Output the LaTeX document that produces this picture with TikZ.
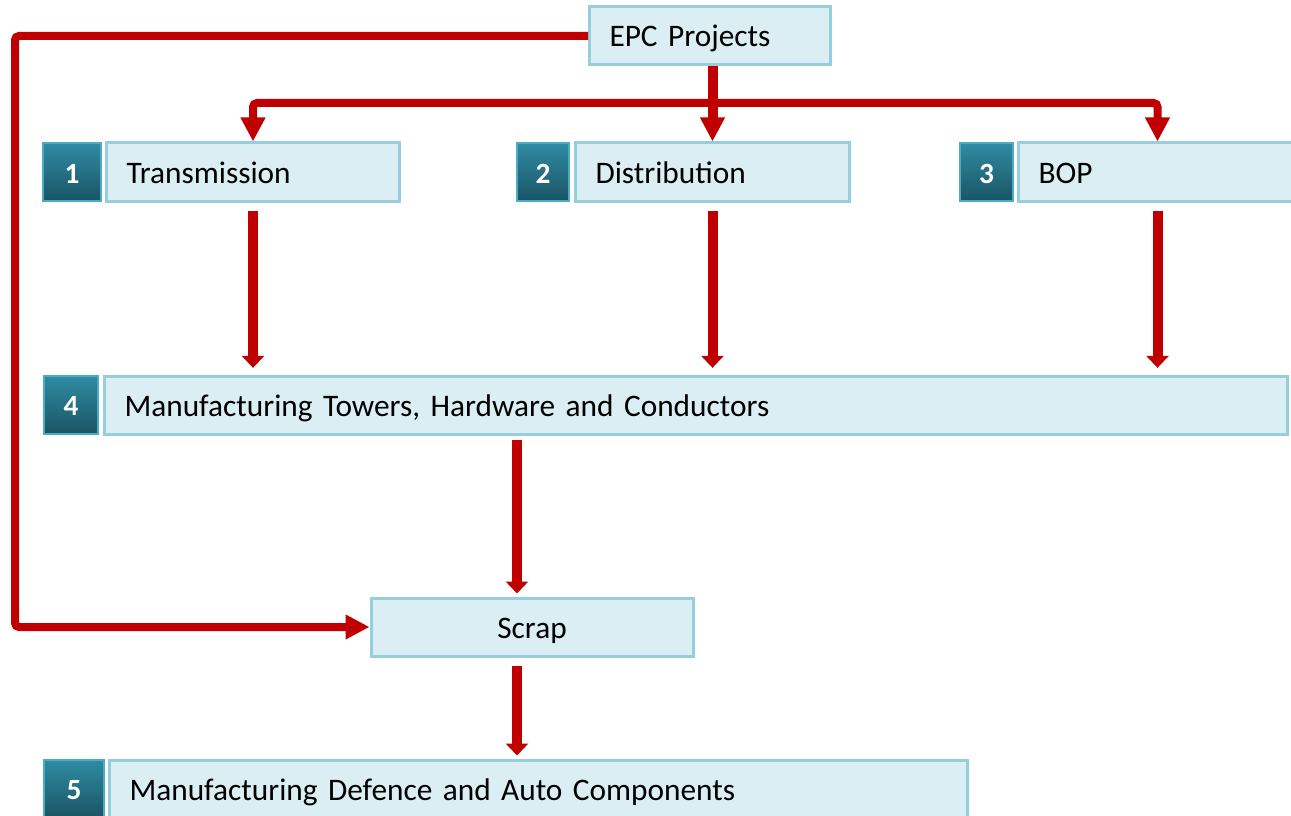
\documentclass[tikz,border=0pt]{standalone}
\usepackage{fontspec}
\setmainfont{Carlito}
\usetikzlibrary{positioning, arrows.meta}

\begin{document}
\begin{tikzpicture}[x=0.75pt, y=-0.75pt,
  txtbox/.style={draw=boxline, line width=2.25pt, fill=boxfill, anchor=west,
    minimum height=43.5pt, inner xsep=15pt, align=left,
    text height=17.5pt, text depth=1pt,
    font=\fontsize{23.5}{28}\selectfont},
  numbox/.style={draw=numline, line width=1.5pt, top color=numtop, bottom color=numbottom,
    minimum height=43.5pt, anchor=west, text=white, inner sep=0pt,
    text height=17pt, text depth=1pt,
    font=\fontsize{22}{26}\selectfont\bfseries},
  bus/.style={draw=arrowred, line width=6pt, rounded corners=3pt},
  bigtip/.style={-{Triangle[length=18pt,width=17.5pt]}},
  drop/.style={draw=arrowred, line width=7.5pt, -{Triangle[length=9pt,width=16.5pt]}}]

% Define colors
\definecolor{boxfill}{RGB}{218,238,243}
\definecolor{boxline}{RGB}{150,206,222}
\definecolor{numtop}{RGB}{47,139,163}
\definecolor{numbottom}{RGB}{26,84,100}
\definecolor{numline}{RGB}{75,172,198}
\definecolor{arrowred}{RGB}{192,0,0}

% Fix the page size
\useasboundingbox (0,0) rectangle (1291,816);

% Top box
\node[txtbox, text width=150.75pt] (epc) at (588,36) {EPC Projects};

% First row
\node[numbox, minimum width=43.5pt] (num1) at (42,172.5) {1};
\node[txtbox, text width=189.75pt, minimum height=44.25pt] (trans) at (105,172.5) {Transmission};

\node[numbox, minimum width=39pt] (num2) at (516,172.5) {2};
\node[txtbox, text width=175.5pt, minimum height=44.25pt] (dist) at (574,172.5) {Distribution};

\node[numbox, minimum width=39.75pt] (num3) at (959,172.5) {3};
\node[txtbox, text width=178.5pt, minimum height=44.25pt] (bop) at (1017,172.5) {BOP};

% Manufacturing row
\node[numbox, minimum width=40.5pt] (num4) at (43,405) {4};
\node[txtbox, text width=857.25pt] (mfg) at (103,405) {Manufacturing Towers, Hardware and Conductors};

% Scrap
\node[txtbox, anchor=center, minimum width=241.5pt, align=center] (scrap) at (532,627) {Scrap};

% Last row
\node[numbox, minimum width=45pt] (num5) at (43,789) {5};
\node[txtbox, text width=613.5pt] (auto) at (108,789) {Manufacturing Defence and Auto Components};

% Arrows from EPC
\coordinate (split) at (711,103);
\coordinate (corner) at (15,627);
\draw[bus, {Triangle[length=18pt,width=17.5pt]}-{Triangle[length=18pt,width=17.5pt]}]
  (trans.north) |- (split) -| (bop.north);
\draw[bus, line width=7.5pt, bigtip] (dist.north |- epc.south) -- (dist.north);
\draw[bus, bigtip] (epc.west) -| (corner) -- (scrap.west);

% Arrows down to manufacturing
\draw[drop, shorten <=6pt, shorten >=5pt] (trans.south) -- (trans.south |- mfg.north);
\draw[drop, shorten <=6pt, shorten >=5pt] (dist.south) -- (dist.south |- mfg.north);
\draw[drop, shorten <=6pt, shorten >=5pt] (bop.south) -- (bop.south |- mfg.north);

% Arrows through scrap
\coordinate (drop5) at ([xshift=-11.25pt]scrap.north);
\draw[drop, shorten <=3pt, shorten >=2.25pt] (mfg.south -| drop5) -- (drop5);
\draw[drop, shorten <=6pt, shorten >=2.25pt] (scrap.south -| drop5) -- (drop5 |- auto.north);

\end{tikzpicture}
\end{document}
